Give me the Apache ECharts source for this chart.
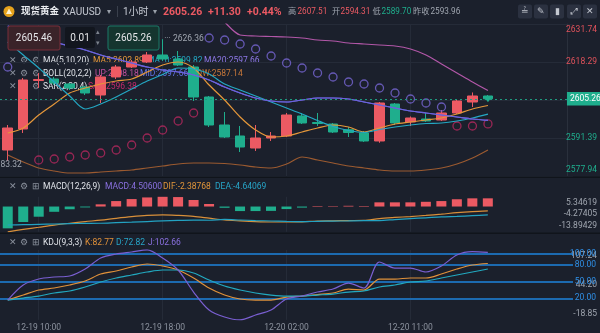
<!DOCTYPE html>
<html>
<head>
<meta charset="utf-8">
<script src="https://cdn.jsdelivr.net/npm/echarts@6/dist/echarts.min.js"></script>
<style>
html,body{margin:0;padding:0;background:#1b202c;}
#chart{width:600px;height:333px;}
</style>
</head>
<body>
<div id="chart"></div>
<script>
// ---- hourly XAUUSD data ----
const categories = [
  '12-19 08:00','12-19 09:00','12-19 10:00','12-19 11:00','12-19 12:00','12-19 13:00','12-19 14:00','12-19 15:00',
  '12-19 16:00','12-19 17:00','12-19 18:00','12-19 19:00','12-19 20:00','12-19 21:00','12-19 22:00','12-19 23:00',
  '12-20 00:00','12-20 01:00','12-20 02:00','12-20 03:00','12-20 04:00','12-20 05:00','12-20 07:00','12-20 08:00',
  '12-20 09:00','12-20 10:00','12-20 11:00','12-20 12:00','12-20 13:00','12-20 14:00','12-20 15:00','12-20 16:00',
  '12-20 17:00','12-20 18:00','12-20 19:00','12-20 20:00','12-20 21:00'
];
const timeTickLabels = ['12-19 10:00','12-19 18:00','12-20 02:00','12-20 11:00'];

// [open, close, low, high]
const candleOHLC = [
  [2587.14,2594.93,2583.32,2595.99],[2594.58,2611.92,2593.16,2612.63],[2611.74,2612.10,2609.09,2614.40],
  [2612.27,2610.86,2610.15,2612.98],[2610.50,2609.09,2608.38,2610.86],[2609.44,2607.32,2606.61,2609.80],
  [2606.61,2613.00,2603.78,2613.69],[2613.00,2616.52,2612.27,2617.23],[2616.52,2618.29,2616.17,2619.00],
  [2618.29,2620.77,2617.94,2621.83],[2620.77,2619.35,2618.64,2626.36],[2619.35,2617.23,2616.87,2622.18],
  [2616.52,2605.90,2604.49,2617.23],[2605.90,2595.99,2595.28,2606.26],[2595.99,2591.74,2591.39,2600.59],
  [2592.10,2588.20,2586.43,2595.64],[2587.85,2591.39,2586.79,2595.99],[2591.39,2592.10,2590.33,2593.51],
  [2592.10,2599.53,2591.74,2600.24],[2599.18,2596.70,2596.34,2600.24],[2596.88,2596.52,2595.64,2600.24],
  [2596.34,2593.51,2593.16,2596.70],[2594.31,2593.34,2591.74,2595.28],[2593.16,2590.33,2590.00,2593.87],
  [2590.33,2603.78,2589.70,2604.13],[2603.42,2596.70,2595.99,2603.78],[2597.05,2598.47,2595.64,2599.00],
  [2598.11,2597.41,2597.05,2600.24],[2597.76,2600.24,2597.41,2601.30],[2600.24,2604.49,2599.89,2604.84],
  [2604.13,2606.26,2602.36,2607.51],[2606.26,2605.26,2604.84,2606.61]
];
const ma5 = [2593.16,2594.93,2599.53,2603.42,2607.32,2609.09,2610.50,2611.56,2612.27,2614.75,2617.23,2618.29,
  2616.17,2610.15,2604.84,2598.82,2594.22,2591.74,2592.10,2593.51,2594.93,2595.99,2595.28,2593.51,
  2594.93,2596.34,2597.05,2597.76,2598.47,2599.88,2601.65,2602.89];
const ma10 = [2625.37,2620.77,2616.17,2611.21,2606.26,2601.65,2603.42,2605.90,2608.73,2611.56,2613.87,2616.17,
  2615.81,2614.04,2610.50,2608.38,2606.26,2604.13,2602.01,2599.88,2597.58,2595.46,2594.04,2593.34,
  2594.40,2595.28,2595.99,2596.52,2596.70,2597.41,2598.47,2599.82];
const ma20 = [2631.03,2629.26,2627.14,2625.37,2623.95,2622.54,2620.77,2619.35,2617.94,2616.52,2615.46,2614.75,
  2613.69,2611.92,2609.44,2607.32,2605.55,2604.49,2604.13,2604.84,2605.55,2605.55,2605.19,2604.13,
  2603.07,2602.01,2600.95,2600.24,2599.53,2598.82,2598.11,2597.66];
const bollUp = [2676.7,2675.6,2673.5,2671.0,2668.9,2666.1,2662.2,2659.0,2655.8,2652.3,2649.4,2647.3,
  2644.8,2638.5,2632.45,2627.85,2627.49,2627.32,2627.14,2626.79,2626.08,2625.72,2625.01,2624.66,
  2624.30,2623.95,2622.89,2620.77,2617.58,2614.40,2611.21,2608.18];
const bollLow = [2585.37,2582.89,2580.77,2579.71,2579.00,2579.00,2579.36,2579.71,2580.06,2580.77,2581.48,2582.19,
  2582.54,2582.54,2582.36,2581.83,2581.13,2580.77,2582.19,2584.66,2583.60,2582.54,2581.48,2580.77,
  2580.06,2579.71,2579.71,2580.06,2580.77,2582.19,2584.31,2587.14];
const sar = [2616.52,null,2583.60,2583.96,2584.66,2585.37,2586.08,2587.14,2588.91,2591.39,2594.22,2597.41,
  2600.24,2626.78,2626.08,2624.66,2622.89,2620.41,2617.94,2616.17,2614.40,2612.98,2611.21,2610.50,
  2609.09,2607.32,2605.19,2603.78,2602.36,2595.64,2595.64,2596.38];

const macdHist = [-12.0,-8.5,-5.6,-2.9,-1.5,-0.5,1.2,3.0,4.1,5.0,5.34619,5.2,3.6,1.4,-0.7,-2.5,
  -2.5,-2.4,-1.4,-0.6,0.3,0.25,0.4,0.3,2.3,2.3,2.3,2.6,3.0,4.0,4.5,4.506];
const macdDif = [-13.89429,-12.6,-11.4,-10.2,-9.2,-8.3,-7.5,-6.5,-5.6,-4.9,-4.6,-4.9,-5.4,-6.4,-7.4,-7.9,
  -8.3,-8.5,-8.5,-8.4,-8.0,-7.85,-7.7,-7.6,-6.6,-6.0,-5.5,-4.9,-4.2,-3.4,-2.8,-2.38768];
const macdDea = [-10.15,-10.0,-9.8,-9.6,-9.4,-9.3,-9.2,-8.9,-8.6,-8.25,-7.9,-7.6,-7.45,-7.55,-7.1,-7.4,
  -7.7,-7.95,-8.2,-8.35,-8.15,-8.0,-7.9,-7.75,-7.75,-7.15,-6.65,-6.2,-5.7,-5.4,-5.05,-4.64069];

const kdjK = [16.94,25.95,34.95,38.56,43.96,51.17,63.78,69.19,76.40,81.80,78.20,70.99,56.58,38.56,25.95,18.74,
  16.94,16.94,22.34,24.14,26.85,29.55,36.76,34.95,54.77,54.77,56.58,56.58,63.78,72.79,80.00,82.77];
const kdjD = [16.94,20.54,24.14,29.55,33.15,40.36,49.37,56.58,61.98,67.39,70.99,70.99,65.59,52.97,42.16,34.95,
  29.55,25.95,24.14,24.14,25.95,27.75,31.35,33.15,40.36,43.96,49.37,51.17,56.58,61.98,67.39,72.82];
const kdjJ = [16.94,43.96,54.77,58.38,60.18,72.79,92.61,99.82,103.42,107.24,92.61,70.99,31.35,-1.08,-13.69,-18.85,
  -10.09,-1.08,18.74,24.14,31.35,36.76,47.57,38.56,85.41,74.59,74.59,67.39,78.20,98.02,104.00,102.66];
const kdjLevels = [100, 80, 50, 20];

// axis label values
const priceTicks = [2577.94, 2591.39, 2604.84, 2618.29, 2631.74];
const priceLabels = [2577.94, 2591.39, 2618.29, 2631.74];
const macdTicks = [-13.89429, -4.27405, 5.34619];
const kdjTicks = [-18.85, 44.20, 107.24];

// quote header
const lastPrice = 2605.26, priceChange = 11.30, pctChange = 0.44;
const dayHigh = 2607.51, dayOpen = 2594.31, dayLow = 2589.70, prevClose = 2593.96;
const askPrice = 2605.46, lotSize = 0.01;
const rangeHigh = 2626.36, rangeLow = 2583.32;

// ---- styling ----
const FONT = 'Roboto, "Noto Sans CJK SC", sans-serif';
const RED = '#ec5a63', TEAL = '#1fae8d';
const C_MA5 = '#e5973a', C_MA10 = '#24a8c4', C_MA20 = '#6b63dc', C_UP = '#b257a8', C_LOW = '#9b5a30';
const C_SAR_HI = '#7866d6', C_SAR_LO = '#b8285f';
const GRIDLINE = '#252b38';
const GRID_LEFT = -7.04, GRID_RIGHT = 26.84;
const AX_FS = 8.5, LG_FS = 8.5, HD_FS = 8.2;
const last = a => a[a.length - 1];

function edgeRich(keyPrefix, color) {
  const base = {color, fontSize: AX_FS, fontFamily: FONT};
  const r = {};
  r[keyPrefix + 't'] = Object.assign({padding: [12, 0, 0, 0]}, base);
  r[keyPrefix + 'm'] = Object.assign({}, base);
  r[keyPrefix + 'b'] = Object.assign({padding: [0, 0, 12, 0]}, base);
  return r;
}
function edgeKey(v, min, max) {
  if (Math.abs(v - max) < 1e-6) return 't';
  if (Math.abs(v - min) < 1e-6) return 'b';
  return 'm';
}

const vGridLines = {
  silent: true, symbol: 'none', z: 1,
  label: {show: false},
  lineStyle: {color: GRIDLINE, width: 1, type: 'solid'},
  data: timeTickLabels.map(c => ({xAxis: c}))
};

function lineSeries(name, data, color, xi, extra) {
  return Object.assign({
    name, type: 'line', data, xAxisIndex: xi, yAxisIndex: xi,
    showSymbol: false, smooth: 0.3, silent: true,
    lineStyle: {color, width: 1.2}, itemStyle: {color}
  }, extra || {});
}

const priceMin = priceTicks[0], priceMax = last(priceTicks);

const xAxisBase = i => ({
  type: 'category', gridIndex: i, data: categories, boundaryGap: true,
  axisLine: {show: false}, axisTick: {show: false},
  axisLabel: i === 2 ? {
    show: true, interval: (idx, v) => timeTickLabels.indexOf(v) >= 0,
    color: '#8c929e', fontSize: AX_FS, fontFamily: FONT, margin: 4
  } : {show: false},
  splitLine: {show: false}
});

const option = {
  animation: false,
  backgroundColor: '#1b202c',
  grid: [
    {left: GRID_LEFT, right: GRID_RIGHT, top: 24, height: 152},
    {left: GRID_LEFT, right: GRID_RIGHT, top: 196.8, height: 35},
    {left: GRID_LEFT, right: GRID_RIGHT, top: 249.9, height: 70}
  ],
  xAxis: [xAxisBase(0), xAxisBase(1), xAxisBase(2)],
  yAxis: [
    {
      type: 'value', gridIndex: 0, position: 'right', offset: -6.2,
      min: priceMin, max: priceMax, scale: true,
      axisLine: {show: true, lineStyle: {color: '#2a303c'}},
      axisTick: {show: false, customValues: priceTicks},
      splitLine: {show: true, lineStyle: {color: GRIDLINE}},
      axisLabel: {
        customValues: priceLabels, margin: 30, align: 'right',
        formatter: v => '{' + (v > lastPrice ? 'r' : 'g') + edgeKey(v, priceMin, priceMax) + '|' + v.toFixed(2) + '}',
        rich: Object.assign({}, edgeRich('r', '#e0525b'), edgeRich('g', TEAL))
      }
    },
    {
      type: 'value', gridIndex: 1, position: 'right',
      min: macdTicks[0], max: last(macdTicks),
      axisLine: {show: false},
      axisTick: {show: false, customValues: macdTicks},
      splitLine: {show: false},
      axisLabel: {
        customValues: macdTicks, margin: 24, align: 'right',
        formatter: v => '{a' + edgeKey(v, macdTicks[0], last(macdTicks)) + '|' + v.toFixed(5) + '}',
        rich: edgeRich('a', '#a0a6b0')
      }
    },
    {
      type: 'value', gridIndex: 2, position: 'right',
      min: kdjTicks[0], max: last(kdjTicks),
      axisLine: {show: false},
      axisTick: {show: false, customValues: kdjTicks},
      splitLine: {show: false},
      axisLabel: {
        customValues: kdjTicks, margin: 24, align: 'right',
        formatter: v => '{a' + edgeKey(v, kdjTicks[0], last(kdjTicks)) + '|' + v.toFixed(2) + '}',
        rich: edgeRich('a', '#a0a6b0')
      }
    }
  ],
  series: [
    {
      name: 'K线', type: 'candlestick', xAxisIndex: 0, yAxisIndex: 0,
      data: candleOHLC, barWidth: 10, silent: true,
      itemStyle: {color: RED, color0: TEAL, borderColor: RED, borderColor0: TEAL, borderWidth: 1},
      markLine: {
        silent: true, symbol: 'none',
        data: [{
          yAxis: lastPrice,
          lineStyle: {color: '#1f9a80', type: [2, 3], width: 1},
          label: {
            show: true, position: 'end', distance: -6.2, align: 'left',
            formatter: lastPrice.toFixed(2), color: '#ffffff', fontSize: AX_FS, fontFamily: FONT,
            backgroundColor: TEAL, padding: [3, 2, 2, 3]
          }
        }]
      },
      markPoint: {
        silent: true,
        data: [
          {
            coord: [categories[10], rangeHigh], symbol: 'rect', symbolSize: 1,
            itemStyle: {color: 'rgba(0,0,0,0)'},
            label: {show: true, position: 'right', distance: 1, formatter: '··· ' + rangeHigh.toFixed(2),
              color: '#a0a6b0', fontSize: AX_FS, fontFamily: FONT}
          },
          {
            coord: [categories[0], rangeLow], symbol: 'rect', symbolSize: 1,
            itemStyle: {color: 'rgba(0,0,0,0)'},
            label: {show: true, position: 'inside', align: 'right', offset: [14, 4],
              formatter: rangeLow.toFixed(2), color: '#a0a6b0', fontSize: AX_FS, fontFamily: FONT}
          },
          {
            coord: [categories[31], lastPrice], symbol: 'triangle', symbolRotate: 180,
            symbolSize: [7, 5], symbolOffset: [0, 1], itemStyle: {color: TEAL}, label: {show: false}
          }
        ]
      }
    },
    lineSeries('MA5', ma5, C_MA5, 0, {markLine: vGridLines}),
    lineSeries('MA10', ma10, C_MA10, 0),
    lineSeries('MA20', ma20, C_MA20, 0),
    lineSeries('UP', bollUp, C_UP, 0),
    lineSeries('MID', ma20, C_MA20, 0),
    lineSeries('LOW', bollLow, C_LOW, 0),
    {
      name: 'SAR', type: 'scatter', xAxisIndex: 0, yAxisIndex: 0, silent: true,
      symbol: 'circle', symbolSize: 8,
      itemStyle: {color: 'rgba(0,0,0,0)', borderWidth: 1.3},
      data: sar.map((v, i) => v == null ? null : {
        value: v,
        itemStyle: {borderColor: v > candleOHLC[i][1] ? C_SAR_HI : C_SAR_LO}
      })
    },
    {
      name: 'MACD', type: 'bar', xAxisIndex: 1, yAxisIndex: 1, silent: true,
      data: macdHist, barWidth: 10,
      itemStyle: {color: p => p.value >= 0 ? RED : TEAL},
      markLine: vGridLines
    },
    lineSeries('DIF', macdDif, '#d88f3a', 1),
    lineSeries('DEA', macdDea, '#23a2c2', 1),
    lineSeries('K', kdjK, '#e0913a', 2),
    lineSeries('D', kdjD, '#22a9c0', 2, {
      markLine: {
        silent: true, symbol: 'none', z: 1,
        data: vGridLines.data.map(d => Object.assign({lineStyle: {color: GRIDLINE, width: 1, type: 'solid'}, label: {show: false}}, d))
          .concat(kdjLevels.map(v => ({
            yAxis: v,
            lineStyle: {color: '#1c6ab0', width: 1.8, type: 'solid'},
            label: {show: true, position: 'end', align: 'right', distance: 23,
              formatter: v.toFixed(2), color: '#2f8fe6', fontSize: AX_FS, fontFamily: FONT}
          })))
      }
    }),
    lineSeries('J', kdjJ, '#7a5fd2', 2)
  ],
  graphic: []
};

// ---- header, legends and trade boxes ----
const G = option.graphic;
function txt(x, y, text, fill, size, weight, z, align) {
  G.push({type: 'text', x, y, z: z || 0, silent: true,
    style: {text, fill, fontSize: size, fontFamily: FONT, fontWeight: weight || 'normal',
      textAlign: align || 'left', textVerticalAlign: 'middle'}});
}
function box(x, y, w, h, fill, stroke, z) {
  G.push({type: 'rect', z: z || 100, silent: true, shape: {x, y, width: w, height: h, r: 2},
    style: {fill, stroke: stroke || null, lineWidth: 1}});
}

// header line
G.push({type: 'circle', z: 10, silent: true, shape: {cx: 9, cy: 11.5, r: 5.5}, style: {fill: '#e6a21c'}});
G.push({type: 'polygon', z: 11, silent: true, shape: {points: [[6, 14], [9, 8.5], [12, 14]]}, style: {fill: '#fff3d0'}});
txt(21, 12, '现货黄金', '#eceef2', 9.5, 'bold', 10);
txt(63, 12, 'XAUUSD', '#c5c9d2', 10, 'normal', 10);
txt(107, 12, '▾', '#9aa0aa', 8, 'normal', 10);
G.push({type: 'rect', z: 10, silent: true, shape: {x: 117, y: 6, width: 1, height: 11}, style: {fill: '#3a404c'}});
txt(123, 12, '1小时', '#c5c9d2', 10, 'normal', 10);
txt(153, 12, '▾', '#9aa0aa', 8, 'normal', 10);
txt(163, 12, lastPrice.toFixed(2), RED, 10.5, 'bold', 10);
txt(208, 12, '+' + priceChange.toFixed(2), RED, 10.5, 'bold', 10);
txt(247, 12, '+' + pctChange.toFixed(2) + '%', RED, 10.5, 'bold', 10);
txt(288, 12, '高', '#a0a6b0', HD_FS, 'normal', 10);
txt(297.5, 12, dayHigh.toFixed(2), RED, HD_FS, 'normal', 10);
txt(332, 12, '开', '#a0a6b0', HD_FS, 'normal', 10);
txt(340.5, 12, dayOpen.toFixed(2), RED, HD_FS, 'normal', 10);
txt(372.5, 12, '低', '#a0a6b0', HD_FS, 'normal', 10);
txt(381.5, 12, dayLow.toFixed(2), TEAL, HD_FS, 'normal', 10);
txt(413, 12, '昨收', '#a0a6b0', HD_FS, 'normal', 10);
txt(430.5, 12, prevClose.toFixed(2), '#a0a6b0', HD_FS, 'normal', 10);
const toolGlyphs = ['≟', '✎', '▮', '⤢', '✕'];
[518, 534, 550, 567, 583].forEach((x, i) => {
  box(x, 4.5, 14, 14, '#2b3140', null, 10);
  txt(x + 7, 11.5, toolGlyphs[i], '#c4c8d0', 9, 'normal', 11, 'center');
});

// trade boxes
box(8, 26, 52, 24, '#3a2329', '#7a2f3a', 100);
txt(34, 38.5, askPrice.toFixed(2), '#e6e7ea', 10, 'normal', 101, 'center');
box(65, 27, 30, 21, '#12161e', null, 100);
txt(80, 38, lotSize.toFixed(2), '#e6e7ea', 10, 'normal', 101, 'center');
txt(97.5, 32, '▴', '#7d838e', 7, 'normal', 101, 'center');
txt(97.5, 43, '▾', '#7d838e', 7, 'normal', 101, 'center');
box(108, 26, 51, 24, '#15352f', '#1d7a68', 100);
txt(133.5, 38.5, lastPrice.toFixed(2), '#e6e7ea', 10, 'normal', 101, 'center');

// indicator legends (under the marks)
function icons(y, third) {
  txt(13, y, '✕', '#8a909c', 8.5, 'normal', 0, 'center');
  txt(24, y, '⚙', '#8a909c', 9, 'normal', 0, 'center');
  txt(36, y, third, '#8a909c', 9, 'normal', 0, 'center');
}
icons(60.5, '⚙');
txt(43, 60.5, 'MA(5,10,20)', '#dfe2e8', LG_FS);
txt(93, 60.5, 'MA5:' + last(ma5).toFixed(2), C_MA5, LG_FS);
txt(147, 60.5, 'MA10:' + last(ma10).toFixed(2), C_MA10, LG_FS);
txt(204, 60.5, 'MA20:' + last(ma20).toFixed(2), '#8e78e8', LG_FS);
icons(73.5, '⚙');
txt(43, 73.5, 'BOLL(20,2,2)', '#dfe2e8', LG_FS);
txt(95, 73.5, 'UP:' + last(bollUp).toFixed(2), '#c0509e', LG_FS);
txt(140, 73.5, 'MID:' + last(ma20).toFixed(2), '#6072e6', LG_FS);
txt(192, 73.5, 'LOW:' + last(bollLow).toFixed(2), '#c8783a', LG_FS);
icons(86.5, '⚙');
txt(43, 86.5, 'SAR(2,20,4)', '#dfe2e8', LG_FS);
txt(88, 86.5, 'SAR:' + last(sar).toFixed(2), '#c42a6c', LG_FS);

icons(187, '⊞');
txt(43, 187, 'MACD(12,26,9)', '#dfe2e8', LG_FS);
txt(105, 187, 'MACD:' + last(macdHist).toFixed(5), '#8a70e0', LG_FS);
txt(163, 187, 'DIF:' + last(macdDif).toFixed(5), '#e0953a', LG_FS);
txt(215, 187, 'DEA:' + last(macdDea).toFixed(5), '#27a5c8', LG_FS);

icons(243, '⊞');
txt(43, 243, 'KDJ(9,3,3)', '#dfe2e8', LG_FS);
txt(85, 243, 'K:' + last(kdjK).toFixed(2), '#e0913a', LG_FS);
txt(116, 243, 'D:' + last(kdjD).toFixed(2), '#27a5c8', LG_FS);
txt(148, 243, 'J:' + last(kdjJ).toFixed(2), '#8a70e0', LG_FS);

// panel separators
[176.5, 232.5].forEach(y => {
  G.push({type: 'rect', z: 50, silent: true, shape: {x: 0, y, width: 600, height: 1.6}, style: {fill: '#10141b'}});
});

const chart = echarts.init(document.getElementById('chart'), null, {renderer: 'canvas', width: 600, height: 333});
chart.setOption(option);
</script>
</body>
</html>
